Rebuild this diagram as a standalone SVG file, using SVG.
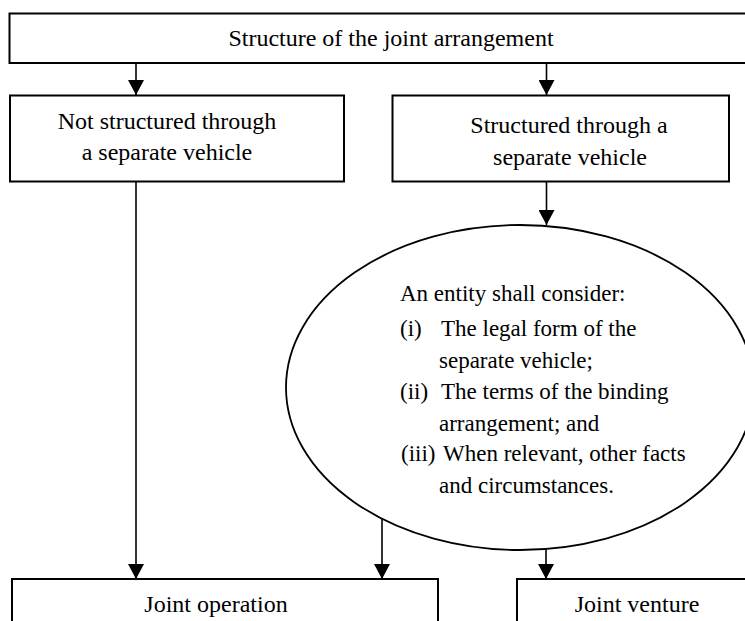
<svg xmlns="http://www.w3.org/2000/svg" width="745" height="621" viewBox="0 0 745 621">
<style>
.box{fill:#fff;stroke:#000;stroke-width:2}
.ell{fill:#fff;stroke:#000;stroke-width:1.8}
.c{fill:none;stroke:#000;stroke-width:1.6}
text{font-family:"Liberation Serif","Times New Roman",serif;font-size:24px;fill:#000}
.e{font-size:23px}
.m{text-anchor:middle}
</style>
<defs>
<marker id="ah" markerUnits="userSpaceOnUse" markerWidth="16" markerHeight="16" viewBox="0 0 16 16" refX="15" refY="8" orient="auto">
<path d="M0,0 L15,8 L0,16 Z" fill="#000"/>
</marker>
</defs>
<g id="top">
<rect class="box" x="9.5" y="13.5" width="760" height="49.5"/>
<text class="m" x="391" y="46">Structure of the joint arrangement</text>
</g>
<g id="not-structured">
<rect class="box" x="10" y="95.5" width="334" height="86"/>
<text class="m" x="167" y="129">Not structured through</text>
<text class="m" x="167" y="160">a separate vehicle</text>
</g>
<g id="structured">
<rect class="box" x="392.5" y="95.5" width="336.5" height="86"/>
<text class="m" x="569" y="133">Structured through a</text>
<text class="m" x="570" y="165">separate vehicle</text>
</g>
<g id="consider">
<ellipse class="ell" cx="520" cy="387.5" rx="234" ry="162.5"/>
<text class="e" x="400" y="301">An entity shall consider:</text>
<text class="e" x="400" y="336">(i)</text>
<text class="e" x="441" y="336">The legal form of the</text>
<text class="e" x="439" y="368">separate vehicle;</text>
<text class="e" x="400" y="399">(ii)</text>
<text class="e" x="441" y="399">The terms of the binding</text>
<text class="e" x="439" y="431">arrangement; and</text>
<text class="e" x="401" y="461">(iii)</text>
<text class="e" x="443" y="461">When relevant, other facts</text>
<text class="e" x="439" y="493">and circumstances.</text>
</g>
<g id="joint-operation">
<rect class="box" x="12" y="579" width="426" height="60"/>
<text class="m" x="216" y="612">Joint operation</text>
</g>
<g id="joint-venture">
<rect class="box" x="517" y="579" width="260" height="60"/>
<text class="m" x="637" y="612">Joint venture</text>
</g>
<g id="connectors">
<line class="c" x1="136" y1="63" x2="136" y2="95" marker-end="url(#ah)"/>
<line class="c" x1="546.5" y1="63" x2="546.5" y2="95" marker-end="url(#ah)"/>
<line class="c" x1="136" y1="181.5" x2="136" y2="579" marker-end="url(#ah)"/>
<line class="c" x1="546.5" y1="181.5" x2="546.5" y2="225" marker-end="url(#ah)"/>
<line class="c" x1="382" y1="518" x2="382" y2="579" marker-end="url(#ah)"/>
<line class="c" x1="546" y1="548" x2="546" y2="579" marker-end="url(#ah)"/>
</g>
</svg>
